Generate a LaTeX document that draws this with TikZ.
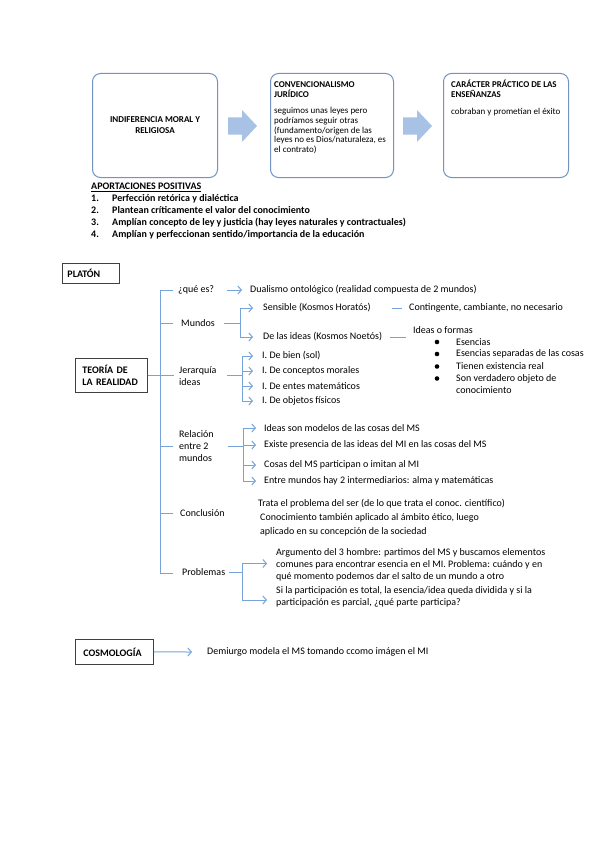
\documentclass[tikz,border=0pt]{standalone}
\usepackage{fontspec}
\setmainfont{Carlito}
\usetikzlibrary{arrows.meta}
\definecolor{boxblue}{RGB}{115,148,194}
\definecolor{arrfill}{RGB}{167,194,228}
\definecolor{treeblue}{RGB}{118,163,218}
\definecolor{hdrgray}{RGB}{64,64,64}
\begin{document}
\begin{tikzpicture}[x=1pt,y=-1pt,
  topbox/.style={draw=boxblue, line width=1pt, rounded corners=8pt, fill=white, inner sep=0pt, anchor=north west},
  barrow/.style={fill=arrfill},
  tl/.style={draw=treeblue, line width=1pt},
  ta/.style={tl, -{Straight Barb[length=3.5pt,width=8pt,line width=1pt]}},
  hbox/.style={draw=hdrgray, line width=0.9pt, font=\fontsize{10}{12}\selectfont\bfseries, align=left, inner sep=0pt, anchor=north west},
  tx/.style={font=\fontsize{10}{12}\selectfont, anchor=west, inner sep=0pt, align=left},
  btitle/.style={font=\fontsize{8.9}{9.5}\selectfont\bfseries, anchor=west, inner sep=0pt, align=left},
  bbody/.style={font=\fontsize{9}{9.9}\selectfont, anchor=west, inner sep=0pt, align=left},
  bul/.style={circle, fill=black, inner sep=0pt, minimum size=4.6pt}
]
\useasboundingbox[fill=white] (0,0) rectangle (599,848);

% ---- top boxes ----
\node[topbox, minimum width=125pt, minimum height=104pt] (b1) at (92,73) {};
\node[topbox, minimum width=123pt, minimum height=104pt] (b2) at (270,73) {};
\node[topbox, minimum width=125pt, minimum height=104pt] (b3) at (443,73) {};
\node[font=\fontsize{9}{11}\selectfont\bfseries, align=center, inner sep=0pt] (b1t) at (b1.center) {INDIFERENCIA MORAL Y\\RELIGIOSA};
\node[btitle] (b2t) at (274,89.5) {CONVENCIONALISMO\\JURÍDICO};
\node[bbody] (b2b) at (274,130.5) {seguimos unas leyes pero\\podríamos seguir otras\\(fundamento/origen de las\\leyes no es Dios/naturaleza, es\\el contrato)};
\node[btitle] (b3t) at (451,89) {CARÁCTER PRÁCTICO DE LAS\\ENSEÑANZAS};
\node[bbody] (b3b) at (451,112) {cobraban y prometían el éxito};

\coordinate (a1) at (228,126);
\coordinate (a2) at (403,126);
\fill[barrow] (a1) ++(0,-8.5) -- ++(14,0) -- ++(0,-7.5) -- ++(15,16) -- ++(-15,16) -- ++(0,-7.5) -- ++(-14,0) -- cycle;
\fill[barrow] (a2) ++(0,-8.5) -- ++(14,0) -- ++(0,-7.5) -- ++(15,16) -- ++(-15,16) -- ++(0,-7.5) -- ++(-14,0) -- cycle;

% ---- aportaciones ----
\node[anchor=west, inner sep=0pt, font=\fontsize{10}{12}\selectfont\bfseries] (apo) at (91,187) {\underline{APORTACIONES POSITIVAS}};
\node[anchor=west, inner sep=0pt, font=\fontsize{10}{11.8}\selectfont\bfseries] (list) at (91,217) {\begin{tabular}{@{}p{21pt}@{}l@{}}
1. & Perfección retórica y dialéctica\\
2. & Plantean críticamente el valor del conocimiento\\
3. & Amplían concepto de ley y justicia (hay leyes naturales y contractuales)\\
4. & Amplían y perfeccionan sentido/importancia de la educación
\end{tabular}};

% ---- Platon ----
\node[hbox, minimum width=57pt, minimum height=20pt, text width=47pt] (platon) at (62,263) {PLATÓN};
\node[hbox, minimum width=72pt, minimum height=34pt, text width=58pt] (teoria) at (75,358) {TEORÍA DE\\LA REALIDAD};

\node[tx] (qes) at (178,290) {¿qué es?};
\node[tx] (dual) at (250,290) {Dualismo ontológico (realidad compuesta de 2 mundos)};
\node[tx] (mundos) at (181,323) {Mundos};
\node[tx] (sens) at (263,308) {Sensible (Kosmos Horatós)};
\node[tx] (cont) at (409,308) {Contingente, cambiante, no necesario};
\node[tx] (dlid) at (263,337) {De las ideas (Kosmos Noetós)};
\node[tx] (iof) at (413,330) {Ideas o formas};
\node[tx] (e1) at (456,342) {Esencias};
\node[tx] (e2) at (456,354) {Esencias separadas de las cosas};
\node[tx] (e3) at (456,366.5) {Tienen existencia real};
\node[tx] (e4) at (456,384.5) {Son verdadero objeto de\\conocimiento};
\node[bul] (u1) at (437,342) {};
\node[bul] (u2) at (437,354) {};
\node[bul] (u3) at (437,366.5) {};
\node[bul] (u4) at (437,378.5) {};

\node[tx] (jer) at (179,376) {Jerarquía\\ideas};
\node[tx] (jb) at (262,356) {I. De bien (sol)};
\node[tx] (jc) at (262,371) {I. De conceptos morales};
\node[tx] (jm) at (262,386) {I. De entes matemáticos};
\node[tx] (jf) at (262,401) {I. De objetos físicos};

\node[tx] (rel) at (179,446.5) {Relación\\entre 2\\mundos};
\node[tx] (r1) at (264,428) {Ideas son modelos de las cosas del MS};
\node[tx] (r2) at (264,445) {Existe presencia de las ideas del MI en las cosas del MS};
\node[tx] (r3) at (264,465) {Cosas del MS participan o imitan al MI};
\node[tx] (r4) at (264,481) {Entre mundos hay 2 intermediarios: alma y matemáticas};

\node[tx] (conc) at (180,513) {Conclusión};
\node[tx] (c1) at (258,504) {Trata el problema del ser (de lo que trata el conoc. científico)};
\node[tx, font=\fontsize{10}{13.5}\selectfont] (c2) at (260,525) {Conocimiento también aplicado al ámbito ético, luego\\aplicado en su concepción de la sociedad};

\node[tx] (prob) at (182,572) {Problemas};
\node[tx] (p1) at (276,565) {Argumento del 3 hombre: partimos del MS y buscamos elementos\\comunes para encontrar esencia en el MI. Problema: cuándo y en\\qué momento podemos dar el salto de un mundo a otro};
\node[tx] (p2) at (276,596.5) {Si la participación es total, la esencia/idea queda dividida y si la\\participación es parcial, ¿qué parte participa?};

% trunk
\coordinate (T1) at (160,290);
\coordinate (T2) at (160,573);
\draw[tl] (T1) -- (T2);
\draw[tl] (T1) -- ++(13,0);
\draw[tl] (T1 |- mundos.west) -- ++(13,0);
\draw[tl] (T1 |- rel.west) -- ++(13,0);
\draw[tl] (T1 |- conc.west) -- ++(13,0);
\draw[tl] (T2) -- ++(13,0);
\draw[tl] (teoria.east) -- ++(26,0);

% que es
\draw[ta] ([xshift=13pt]qes.east) -- ([xshift=-8pt]dual.west);
% mundos
\coordinate (M0) at (224,323);
\coordinate (MB) at (240,323);
\draw[tl] (M0) -- (MB);
\draw[ta] (MB) |- ([xshift=-10pt]sens.west);
\draw[ta] (MB) |- ([xshift=-10pt]dlid.west);
\draw[tl] ([xshift=21pt]sens.east) -- ([xshift=-7pt]cont.west);
\draw[tl] ([xshift=8pt]dlid.east) -- ++(16,0);
% jerarquia
\coordinate (J0) at (227,375);
\coordinate (JB) at (242,375);
\draw[tl] (J0) -- (JB);
\draw[ta] (JB) |- ([xshift=-9pt]jb.west);
\draw[ta] (JB) |- ([xshift=-9pt]jc.west);
\draw[ta] (JB) |- ([xshift=-9pt]jm.west);
\draw[ta] (JB) |- ([xshift=-9pt]jf.west);
% relacion
\coordinate (R0) at (228,446);
\coordinate (RB) at (243,446);
\draw[tl] (R0) -- (RB);
\draw[ta] (RB) |- ([xshift=-8pt]r1.west);
\draw[ta] (RB) |- ([xshift=-8pt]r2.west);
\draw[ta] (RB) |- ([xshift=-8pt]r3.west);
\draw[ta] (RB) |- ([xshift=-8pt]r4.west);
% problemas
\coordinate (P0) at (229,572);
\coordinate (PB) at (242,572);
\draw[tl] (P0) -- (PB);
\draw[ta] (PB) |- ([xshift=-9pt,yshift=1.5pt]p1.west);
\draw[ta] (PB) |- ([xshift=-9pt,yshift=-3.5pt]p2.west);

% ---- cosmologia ----
\node[hbox, minimum width=78pt, minimum height=25pt, text width=62pt] (cosmo) at (75,639) {COSMOLOGÍA};
\node[tx] (demi) at (207,652) {Demiurgo modela el MS tomando ccomo imágen el MI};
\draw[ta] (cosmo.east) -- ([xshift=-15pt]demi.west);
\end{tikzpicture}
\end{document}
